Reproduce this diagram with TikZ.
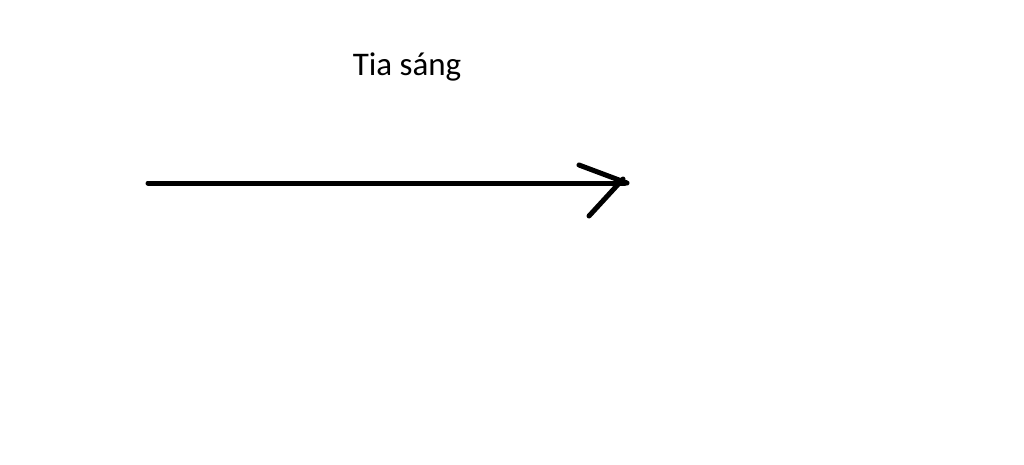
\documentclass[tikz,border=0pt]{standalone}
\usepackage{fontspec}
\setmainfont{Carlito}
\usetikzlibrary{positioning}

\begin{document}
\begin{tikzpicture}[
			x=1pt, y=-1pt,
			ray/.style = {line width=5pt, line cap=round},
			caption/.style = {font=\fontsize{33}{38}\selectfont, inner sep=0pt}
		]
		\useasboundingbox (0,0) rectangle (1024,464);
		% Label.
		\node[caption, anchor=base] (lbl) at (407,75) {Tia sáng};
		% Ray.
		\coordinate (src) at (148,183);
		\coordinate (tip) at (625,183);
		\coordinate (hu) at (579,165);
		\coordinate (hl) at (589,216);
		\coordinate (hlt) at (623,179);

		\draw[ray] (src) to (tip);
		\draw[ray] (hu) to (627,183);
		\draw[ray] (hl) to (hlt);
	\end{tikzpicture}
\end{document}
